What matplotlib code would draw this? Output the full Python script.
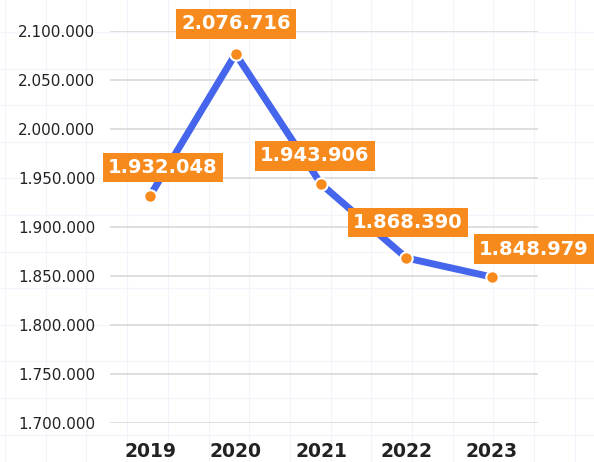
import matplotlib
matplotlib.use("Agg")
import matplotlib.pyplot as plt
from matplotlib.lines import Line2D
from matplotlib.ticker import FuncFormatter

years = ["2019", "2020", "2021", "2022", "2023"]
values = [1932048, 2076716, 1943906, 1868390, 1848979]
yticks = [1700000, 1750000, 1800000, 1850000, 1900000, 1950000, 2000000, 2050000, 2100000]

# label offsets in pixels (dx, dy) relative to the point
label_offsets = [(12.5, 28), (0.5, 30), (-6, 28), (1.5, 35.5), (42, 28)]

def fmt(v):
    return f"{int(v):,}".replace(",", ".")

W, H = 594, 462
fig = plt.figure(figsize=(W / 100, H / 100), dpi=100)
fig.patch.set_facecolor("white")

# faint background grid
for k in range(16):
    x = (5 + 40.7 * k) / W
    fig.add_artist(Line2D([x, x], [0, 1], color="#F3F3FB", lw=0.8, zorder=0))
for k in range(-8, 8):
    y = 1 - (215 + 36.6 * k) / H
    if 0 <= y <= 1:
        fig.add_artist(Line2D([0, 1], [y, y], color="#F3F3FB", lw=0.8, zorder=0))

ax = fig.add_axes([110 / W, (H - 423) / H, (538 - 110) / W, (423 - 31) / H])
ax.set_facecolor("none")
x = list(range(len(years)))
ax.set_xlim(-0.47, 4.54)
ax.set_ylim(1700000, 2100000)
ax.set_yticks(yticks)
ax.yaxis.set_major_formatter(FuncFormatter(lambda v, p: fmt(v)))
ax.set_xticks(x)
ax.set_xticklabels(years)
ax.grid(axis="y", color="#D9D9D9", lw=1.2)
ax.set_axisbelow(True)
for s in ax.spines.values():
    s.set_visible(False)
ax.tick_params(length=0)
ax.tick_params(axis="y", pad=10.5, labelsize=11, labelcolor="#222222")
ax.tick_params(axis="x", pad=14, labelsize=13.5, labelcolor="#222222")
for t in ax.get_yticklabels():
    t.set_fontfamily("DejaVu Sans")
for t in ax.get_xticklabels():
    t.set_fontfamily("DejaVu Sans")
    t.set_fontweight("bold")

ax.plot(x, values, color="#4566EC", lw=5, solid_capstyle="round", zorder=3)
ax.plot(x, values, "o", color="#F78A1D", markersize=9, markeredgecolor="white",
        markeredgewidth=1.5, zorder=4, clip_on=False)

for xi, v, (dx, dy) in zip(x, values, label_offsets):
    ax.annotate(fmt(v), (xi, v), xytext=(dx * 0.72, dy * 0.72), textcoords="offset points",
                ha="center", va="center", color="white", fontsize=14, fontweight="bold",
                fontfamily="DejaVu Sans", zorder=5, annotation_clip=False,
                bbox=dict(boxstyle="square,pad=0.27", fc="#F78A1D", ec="none"))

fig.savefig("out.png", dpi=100)
